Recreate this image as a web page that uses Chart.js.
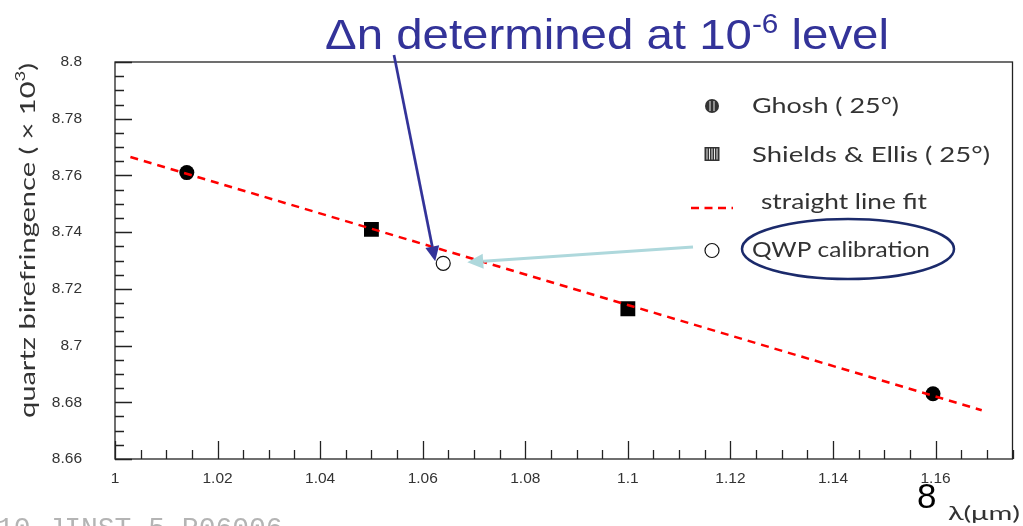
<!DOCTYPE html>
<html>
<head>
<meta charset="utf-8">
<script src="https://cdn.jsdelivr.net/npm/chart.js@4.4.1/dist/chart.umd.min.js"></script>
<style>
  html, body { margin: 0; padding: 0; background: #fff; }
  #wrap { width: 1023px; height: 526px; }
</style>
</head>
<body>
<div id="wrap"><canvas id="chart-birefringence"></canvas></div>
<script>
// data: wavelength (um) vs birefringence (x 10^3)
const ghoshX = [1.014, 1.1595];
const ghoshY = [8.761, 8.683];
const shieldsX = [1.050, 1.100];
const shieldsY = [8.741, 8.713];
const qwpX = [1.064];
const qwpY = [8.729];
const fitX = [1.003, 1.169];
const fitY = [8.7665, 8.6772];

const xTickValues = [1, 1.02, 1.04, 1.06, 1.08, 1.1, 1.12, 1.14, 1.16];
const yTickValues = [8.66, 8.68, 8.7, 8.72, 8.74, 8.76, 8.78, 8.8];

const legendLabels = ['Ghosh ( 25°)', 'Shields & Ellis ( 25°)', 'straight line fit', 'QWP calibration'];

function pts(xs, ys) {
    const out = [];
    for (let i = 0; i < xs.length; ++i) {
        out.push({x: xs[i], y: ys[i]});
    }
    return out;
}

function fmt(v) {
    return String(Number(v.toFixed(3)));
}

// draws text made of pieces [text, size, rise], squeezed to a given width
function drawRich(ctx, parts, x, y, width, family, color) {
    let total = 0;
    const widths = [];
    parts.forEach(function(p) {
        ctx.font = p[1] + 'px ' + family;
        const w = ctx.measureText(p[0]).width;
        widths.push(w);
        total += w;
    });
    const sx = width ? width / total : 1;
    ctx.save();
    ctx.translate(x, y);
    ctx.scale(sx, 1);
    ctx.fillStyle = color;
    ctx.textBaseline = 'alphabetic';
    ctx.textAlign = 'left';
    let cx = 0;
    parts.forEach(function(p, i) {
        ctx.font = p[1] + 'px ' + family;
        ctx.fillText(p[0], cx, -p[2]);
        cx += widths[i];
    });
    ctx.restore();
}

function arrow(ctx, x0, y0, x1, y1, color, lw, headLen, headW) {
    const a = Math.atan2(y1 - y0, x1 - x0);
    const bx = x1 - headLen * Math.cos(a);
    const by = y1 - headLen * Math.sin(a);
    ctx.save();
    ctx.strokeStyle = color;
    ctx.fillStyle = color;
    ctx.lineWidth = lw;
    ctx.beginPath();
    ctx.moveTo(x0, y0);
    ctx.lineTo(bx, by);
    ctx.stroke();
    ctx.beginPath();
    ctx.moveTo(x1, y1);
    ctx.lineTo(bx + headW / 2 * Math.sin(a), by - headW / 2 * Math.cos(a));
    ctx.lineTo(bx - headW / 2 * Math.sin(a), by + headW / 2 * Math.cos(a));
    ctx.closePath();
    ctx.fill();
    ctx.restore();
}

const LEGEND_FONT = '"Lato", "DejaVu Sans", sans-serif';

const frameAndNotes = {
    id: 'frameAndNotes',
    beforeDatasetsDraw(chart) {
        const ctx = chart.ctx;
        const area = chart.chartArea;
        const xs = chart.scales.x;
        const ys = chart.scales.y;
        ctx.save();
        ctx.strokeStyle = '#222';
        ctx.lineWidth = 1.3;
        ctx.strokeRect(area.left, area.top, area.right - area.left, area.bottom - area.top);

        // inward ticks, major every 0.02, minor every 0.005
        ctx.beginPath();
        for (let k = 0; k <= 28; ++k) {
            const v = 8.66 + k * 0.005;
            const py = Math.round(ys.getPixelForValue(v)) + 0.5;
            const len = (k % 4 === 0) ? 17 : 9;
            ctx.moveTo(area.left, py);
            ctx.lineTo(area.left + len, py);
        }
        for (let k = 0; k <= 35; ++k) {
            const v = 1 + k * 0.005;
            const px = Math.round(xs.getPixelForValue(v)) + 0.5;
            const len = (k % 4 === 0) ? 18 : 9;
            ctx.moveTo(px, area.bottom);
            ctx.lineTo(px, area.bottom - len);
        }
        ctx.stroke();
        ctx.restore();
    },
    afterDraw(chart) {
        const ctx = chart.ctx;
        const xs = chart.scales.x;
        const ys = chart.scales.y;

        // headline
        drawRich(ctx, [['\u0394n determined at 10', 43, 0], ['-6', 27, 16], [' level', 43, 0]],
            325, 49, 564, '"Liberation Sans", Arial, sans-serif', '#333399');

        // y axis title, rotated
        ctx.save();
        ctx.translate(35, 418);
        ctx.rotate(-Math.PI / 2);
        drawRich(ctx, [['quartz birefringence ( \u00d7 10', 22, 0], ['3', 14, 10], [')', 22, 0]],
            0, 0, 355, LEGEND_FONT, '#333');
        ctx.restore();

        // legend
        const lx = 712;
        // Ghosh symbol: hatched circle
        ctx.save();
        ctx.fillStyle = '#333';
        ctx.beginPath();
        ctx.arc(lx, 106, 7, 0, Math.PI * 2);
        ctx.fill();
        ctx.strokeStyle = '#fff';
        ctx.lineWidth = 0.9;
        ctx.beginPath();
        ctx.moveTo(lx - 2, 101); ctx.lineTo(lx - 2, 111);
        ctx.moveTo(lx + 2, 101); ctx.lineTo(lx + 2, 111);
        ctx.stroke();
        // Shields symbol: hatched square
        ctx.fillStyle = '#333';
        ctx.fillRect(lx - 7.5, 147, 15, 14);
        ctx.beginPath();
        for (let i = -5; i <= 5; i += 2.5) {
            ctx.moveTo(lx + i, 148.5);
            ctx.lineTo(lx + i, 159.5);
        }
        ctx.stroke();
        // fit line sample
        ctx.strokeStyle = 'red';
        ctx.lineWidth = 2.5;
        ctx.setLineDash([8, 5.5]);
        ctx.beginPath();
        ctx.moveTo(691, 208);
        ctx.lineTo(733, 208);
        ctx.stroke();
        ctx.setLineDash([]);
        // QWP symbol: open circle
        ctx.strokeStyle = '#111';
        ctx.lineWidth = 1.2;
        ctx.fillStyle = '#fff';
        ctx.beginPath();
        ctx.arc(lx, 250.5, 7, 0, Math.PI * 2);
        ctx.fill();
        ctx.stroke();
        ctx.restore();

        drawRich(ctx, [[legendLabels[0], 22, 0]], 752, 113, 147, LEGEND_FONT, '#333');
        drawRich(ctx, [[legendLabels[1], 22, 0]], 752, 162, 238, LEGEND_FONT, '#333');
        drawRich(ctx, [[legendLabels[2], 22, 0]], 761, 209, 166, LEGEND_FONT, '#333');
        drawRich(ctx, [[legendLabels[3], 22, 0]], 752, 257, 178, LEGEND_FONT, '#333');

        // ellipse round the QWP label
        ctx.save();
        ctx.strokeStyle = '#1b2a6b';
        ctx.lineWidth = 2.5;
        ctx.beginPath();
        ctx.ellipse(848, 249, 106, 30, 0, 0, Math.PI * 2);
        ctx.stroke();
        ctx.restore();

        // arrows pointing at the QWP point
        const qx = xs.getPixelForValue(qwpX[0]);
        const qy = ys.getPixelForValue(qwpY[0]);
        arrow(ctx, 394, 55, qx - 8, qy - 2, '#333399', 2.7, 15, 14);
        arrow(ctx, 693, 247, qx + 24, qy - 1, '#aed8dc', 3, 16, 15);

        // slide page number and axis unit
        ctx.save();
        ctx.fillStyle = '#000';
        ctx.font = '35px "Liberation Sans", Arial, sans-serif';
        ctx.textAlign = 'left';
        ctx.fillText('8', 917, 508);
        ctx.restore();
        drawRich(ctx, [['\u03bb(\u03bcm)', 19, 0]], 948, 520, 72, LEGEND_FONT, '#333');

        // citation, cut by the bottom edge
        ctx.save();
        ctx.fillStyle = '#b4b4b4';
        ctx.font = '28px "Liberation Mono", "DejaVu Sans Mono", monospace';
        ctx.fillText('10 JINST 5 P06006', -3, 536);
        ctx.restore();
    }
};

new Chart(document.getElementById('chart-birefringence').getContext('2d'), {
    type: 'scatter',
    data: {
        datasets: [{
            label: legendLabels[2],
            data: pts(fitX, fitY),
            showLine: true,
            borderColor: 'red',
            borderWidth: 2.5,
            borderDash: [8, 6],
            pointRadius: 0,
            order: 0
        }, {
            label: legendLabels[3],
            data: pts(qwpX, qwpY),
            pointStyle: 'circle',
            pointRadius: 7,
            backgroundColor: '#fff',
            borderColor: '#111',
            borderWidth: 1.2,
            order: 1
        }, {
            label: legendLabels[1],
            data: pts(shieldsX, shieldsY),
            pointStyle: 'rect',
            pointRadius: 10.5,
            backgroundColor: '#000',
            borderColor: '#000',
            borderWidth: 0,
            order: 2
        }, {
            label: legendLabels[0],
            data: pts(ghoshX, ghoshY),
            pointStyle: 'circle',
            pointRadius: 7.5,
            backgroundColor: '#000',
            borderColor: '#000',
            borderWidth: 0,
            order: 3
        }]
    },
    options: {
        responsive: true,
        maintainAspectRatio: false,
        animation: false,
        layout: {
            padding: {left: 0, right: 2, top: 62, bottom: 0}
        },
        scales: {
            x: {
                type: 'linear',
                min: 1,
                max: 1.175,
                afterBuildTicks: function(scale) {
                    scale.ticks = xTickValues.map(function(v) { return {value: v}; });
                },
                afterFit: function(scale) { scale.height = 67; },
                grid: {display: false, drawTicks: false},
                border: {display: false},
                ticks: {
                    padding: 10,
                    maxRotation: 0,
                    autoSkip: false,
                    color: '#333',
                    font: {family: '"Liberation Sans", Arial, sans-serif', size: 15.5},
                    callback: function(v) { return fmt(v); }
                }
            },
            y: {
                type: 'linear',
                min: 8.66,
                max: 8.8,
                afterBuildTicks: function(scale) {
                    scale.ticks = yTickValues.map(function(v) { return {value: v}; });
                },
                afterFit: function(scale) { scale.width = 115; },
                grid: {display: false, drawTicks: false},
                border: {display: false},
                ticks: {
                    padding: 33,
                    autoSkip: false,
                    color: '#333',
                    font: {family: '"Liberation Sans", Arial, sans-serif', size: 15.5},
                    callback: function(v) { return fmt(v); }
                }
            }
        },
        plugins: {
            legend: {display: false},
            tooltip: {enabled: false},
            title: {display: false}
        }
    },
    plugins: [frameAndNotes]
});
</script>
</body>
</html>
